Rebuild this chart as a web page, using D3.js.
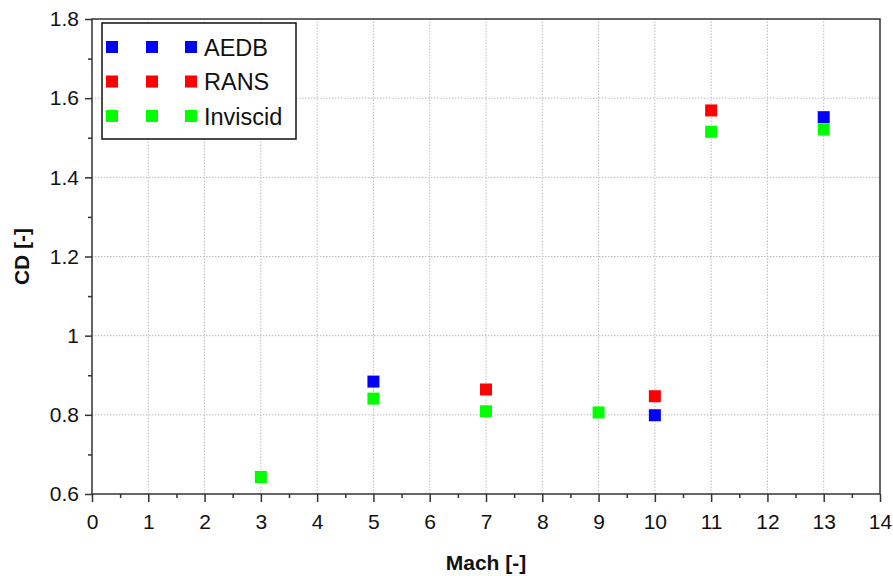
<!DOCTYPE html>
<html>
<head>
<meta charset="utf-8">
<script src="https://cdn.jsdelivr.net/npm/d3@7"></script>
<style>
  body { margin: 0; background: #fff; }
  text { font-family: "Liberation Sans", Arial, sans-serif; }
</style>
</head>
<body>
<div id="content"></div>
<script>
// datos
var machTicks = [0, 1, 2, 3, 4, 5, 6, 7, 8, 9, 10, 11, 12, 13, 14];
var cdTicks = [0.6, 0.8, 1, 1.2, 1.4, 1.6, 1.8];

var aedbMach = [5, 10, 13];
var aedbCd = [0.884, 0.799, 1.552];
var ransMach = [7, 10, 11];
var ransCd = [0.864, 0.847, 1.569];
var invMach = [3, 5, 7, 9, 11, 13];
var invCd = [0.643, 0.841, 0.809, 0.806, 1.515, 1.521];

var seriesNames = ["AEDB", "RANS", "Inviscid"];
var seriesColors = ["#0000ff", "#ff0000", "#00ff00"];

// dimensiones
var width = 893;
var height = 576;

var svg = d3.select("#content")
  .append("svg")
  .attr("width", width)
  .attr("height", height);

var x = d3.scaleLinear().domain([0, 14]).range([92, 880]);
var y = d3.scaleLinear().domain([0.6, 1.8]).range([494, 19]);

// grilla punteada
svg.append("g")
  .selectAll("line")
  .data(machTicks.slice(1, -1))
  .enter().append("line")
  .attr("x1", function(d) { return x(d); })
  .attr("x2", function(d) { return x(d); })
  .attr("y1", y(0.6))
  .attr("y2", y(1.8))
  .style("stroke", "#bdbdbd")
  .style("stroke-dasharray", "1.5,1.5");

svg.append("g")
  .selectAll("line")
  .data(cdTicks.slice(1, -1))
  .enter().append("line")
  .attr("x1", x(0))
  .attr("x2", x(14))
  .attr("y1", function(d) { return y(d); })
  .attr("y2", function(d) { return y(d); })
  .style("stroke", "#bdbdbd")
  .style("stroke-dasharray", "1.5,1.5");

// marco
svg.append("rect")
  .attr("x", x(0))
  .attr("y", y(1.8))
  .attr("width", x(14) - x(0))
  .attr("height", y(0.6) - y(1.8))
  .style("fill", "none")
  .style("stroke", "#333")
  .style("stroke-width", 1.5);

// ejes
var xMinor = d3.range(0.5, 14, 1);
var yMinor = d3.range(0.7, 1.8, 0.2);

svg.append("g")
  .attr("transform", "translate(0," + y(0.6) + ")")
  .call(d3.axisBottom(x).tickValues(xMinor).tickSize(4).tickFormat(""))
  .call(function(g) { g.select(".domain").remove(); });

var xAxis = svg.append("g")
  .attr("transform", "translate(0," + y(0.6) + ")")
  .call(d3.axisBottom(x).tickValues(machTicks).tickSize(8).tickPadding(12).tickFormat(d3.format("d")));
xAxis.select(".domain").remove();
xAxis.selectAll("text").style("font-size", "21px").style("fill", "#111");

svg.append("g")
  .attr("transform", "translate(" + x(0) + ",0)")
  .call(d3.axisLeft(y).tickValues(yMinor).tickSize(4).tickFormat(""))
  .call(function(g) { g.select(".domain").remove(); });

var yAxis = svg.append("g")
  .attr("transform", "translate(" + x(0) + ",0)")
  .call(d3.axisLeft(y).tickValues(cdTicks).tickSize(7).tickPadding(6).tickFormat(function(d) { return String(d); }));
yAxis.select(".domain").remove();
yAxis.selectAll("text").style("font-size", "21px").style("fill", "#111");

svg.selectAll(".tick line").style("stroke", "#333").style("stroke-width", 1.5);

// titulos
svg.append("text")
  .attr("x", (x(0) + x(14)) / 2)
  .attr("y", 570)
  .attr("text-anchor", "middle")
  .style("font-size", "21px")
  .style("font-weight", "bold")
  .style("fill", "#111")
  .text("Mach [-]");

svg.append("text")
  .attr("transform", "translate(29," + (y(0.6) + y(1.8)) / 2 + ") rotate(-90)")
  .attr("text-anchor", "middle")
  .style("font-size", "21px")
  .style("font-weight", "bold")
  .style("fill", "#111")
  .text("CD [-]");

// puntos
var series = [
  { mach: aedbMach, cd: aedbCd },
  { mach: ransMach, cd: ransCd },
  { mach: invMach, cd: invCd }
];
var size = 12;

series.forEach(function(s, i) {
  svg.append("g")
    .selectAll("rect")
    .data(d3.zip(s.mach, s.cd))
    .enter().append("rect")
    .attr("x", function(d) { return x(d[0]) - size / 2; })
    .attr("y", function(d) { return y(d[1]) - size / 2; })
    .attr("width", size)
    .attr("height", size)
    .style("fill", seriesColors[i]);
});

// leyenda
var legend = svg.append("g");
legend.append("rect")
  .attr("x", 102)
  .attr("y", 23)
  .attr("width", 194)
  .attr("height", 116)
  .style("fill", "#fff")
  .style("stroke", "#111")
  .style("stroke-width", 1.5);

var rows = legend.selectAll("g.row")
  .data(seriesNames)
  .enter().append("g")
  .attr("class", "row")
  .attr("transform", function(d, i) { return "translate(0," + (47 + i * 34.5) + ")"; });

[112, 152, 191].forEach(function(cx) {
  rows.append("rect")
    .attr("x", cx - size / 2)
    .attr("y", -size / 2)
    .attr("width", size)
    .attr("height", size)
    .style("fill", function(d, i) { return seriesColors[i]; });
});

rows.append("text")
  .attr("x", 204)
  .attr("y", 8.5)
  .style("font-size", "23.5px")
  .style("fill", "#111")
  .text(function(d) { return d; });
</script>
</body>
</html>
